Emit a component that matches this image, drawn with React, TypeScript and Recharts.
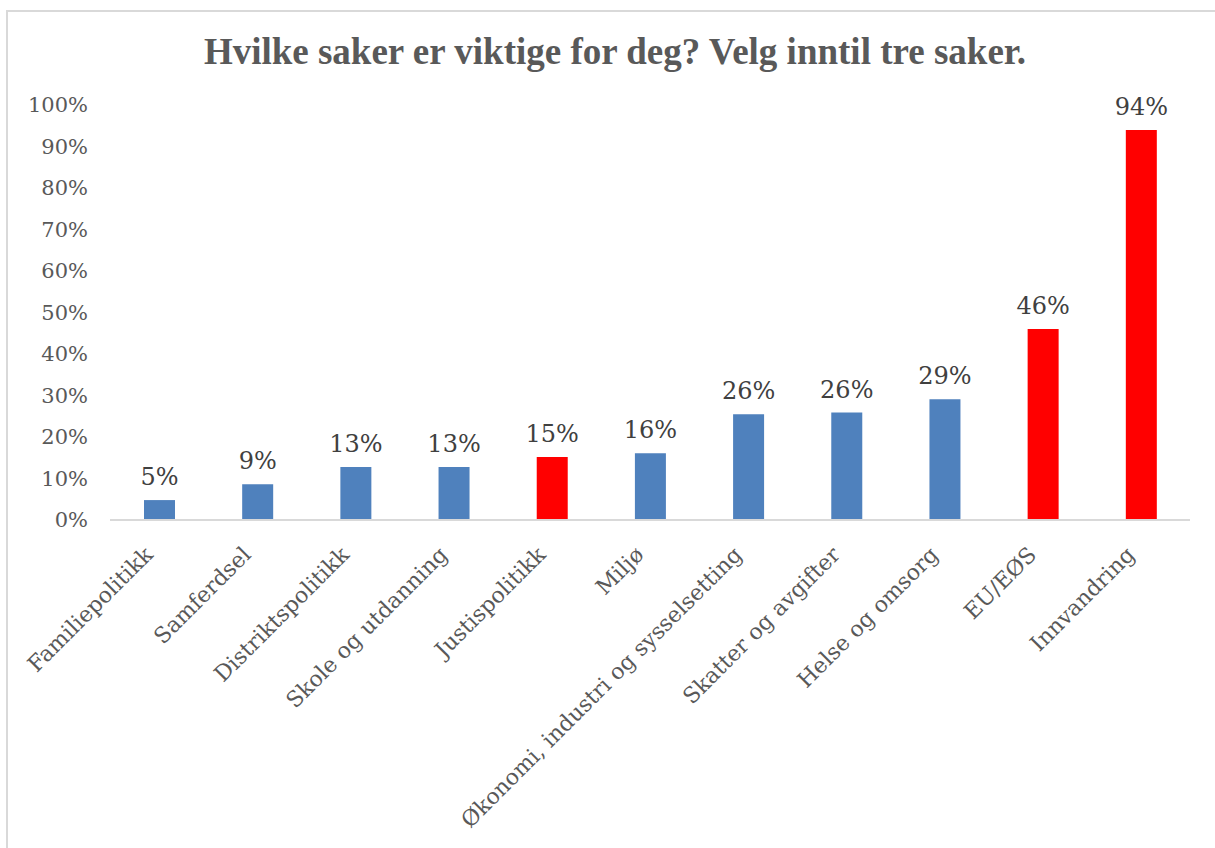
import React from 'react'
import { BarChart, Bar, XAxis, YAxis, Cell, LabelList } from 'recharts'

const categories = [
  'Familiepolitikk',
  'Samferdsel',
  'Distriktspolitikk',
  'Skole og utdanning',
  'Justispolitikk',
  'Miljø',
  'Økonomi, industri og sysselsetting',
  'Skatter og avgifter',
  'Helse og omsorg',
  'EU/EØS',
  'Innvandring',
]
const shares = [0.048, 0.086, 0.128, 0.128, 0.152, 0.161, 0.255, 0.259, 0.291, 0.46, 0.94]
const highlighted = ['Justispolitikk', 'EU/EØS', 'Innvandring']
const yTicks = [0, 0.1, 0.2, 0.3, 0.4, 0.5, 0.6, 0.7, 0.8, 0.9, 1]

const data = categories.map((name, i) => ({ name, value: shares[i] }))

const BLUE = '#4F81BD'
const RED = '#FF0000'
const pct = (v: number) => `${Math.round(v * 100)}%`

const XTick = ({ x, y, payload }: any) => (
  <g transform={`translate(${x - 5},${y + 28}) rotate(-45)`}>
    <text textAnchor="end" fill="#595959" fontSize={22} fontFamily="'DejaVu Serif', serif">
      {payload.value}
    </text>
  </g>
)

export default function App() {
  return (
    <div style={{ position: 'absolute', left: 0, top: 0, width: 1215, height: 848, background: '#fff', overflow: 'hidden' }}>
      <div style={{ position: 'absolute', left: 6, top: 10, width: 1230, height: 860, border: '2px solid #d9d9d9' }} />
      <div style={{ position: 'absolute', left: 0, top: 30, width: 1230, textAlign: 'center', fontFamily: "'Liberation Serif', serif", fontWeight: 'bold', fontSize: 37, color: '#595959' }}>
        Hvilke saker er viktige for deg? Velg inntil tre saker.
      </div>
      <BarChart width={1215} height={848} data={data} margin={{ top: 105, right: 25, bottom: 0, left: 0 }} style={{ position: 'absolute', left: 0, top: 0 }}>
        <XAxis dataKey="name" interval={0} height={328} tickLine={false} axisLine={{ stroke: '#d9d9d9', strokeWidth: 2 }} tick={<XTick />} />
        <YAxis domain={[0, 1]} ticks={yTicks} width={110} axisLine={false} tickLine={false} tickMargin={16} tickFormatter={pct} tick={{ fill: '#595959', fontSize: 21, fontFamily: "'DejaVu Serif', serif" }} />
        <Bar dataKey="value" barSize={31} isAnimationActive={false}>
          {data.map((d) => (
            <Cell key={d.name} fill={highlighted.includes(d.name) ? RED : BLUE} />
          ))}
          <LabelList dataKey="value" position="top" offset={15} formatter={(v: any) => pct(Number(v))} fill="#404040" fontSize={24} fontFamily="'DejaVu Serif', serif" />
        </Bar>
      </BarChart>
    </div>
  )
}
